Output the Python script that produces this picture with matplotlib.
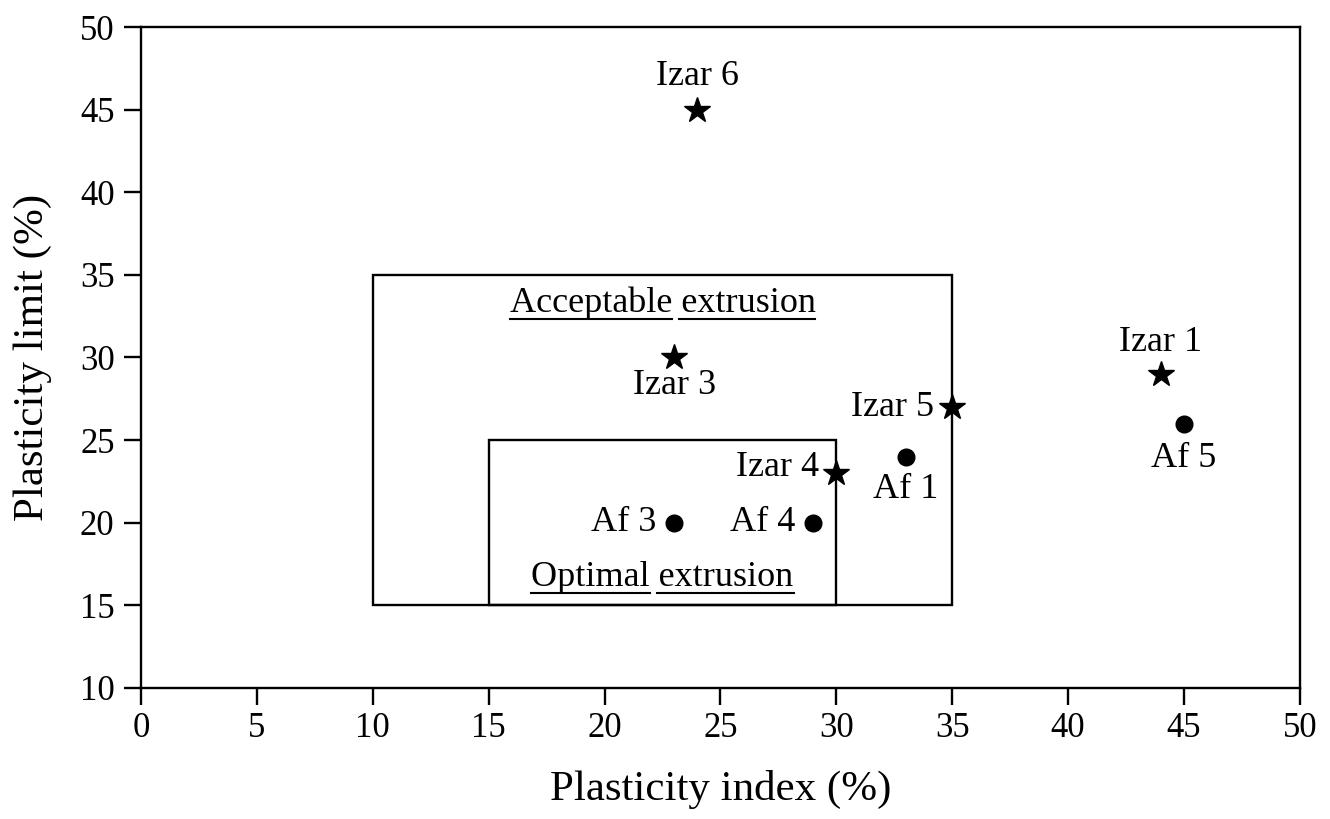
import matplotlib
matplotlib.use("Agg")
import matplotlib.pyplot as plt
from matplotlib.patches import Rectangle
from matplotlib.lines import Line2D

plt.rcParams['font.family'] = ['Liberation Serif', 'DejaVu Serif']

# Samples: (plasticity index, plasticity limit)
izar_names = ["Izar 1", "Izar 3", "Izar 4", "Izar 5", "Izar 6"]
izar_pi = [44, 23, 30, 35, 24]
izar_pl = [29, 30, 23, 27, 45]

af_names = ["Af 1", "Af 3", "Af 4", "Af 5"]
af_pi = [33, 23, 29, 45]
af_pl = [24, 20, 20, 26]

# Extrusion zones: (PI min, PI max, PL min, PL max)
acceptable_zone = (10, 35, 15, 35)
optimal_zone = (15, 30, 15, 25)

x_ticks = list(range(0, 51, 5))
y_ticks = list(range(10, 51, 5))

fig = plt.figure(figsize=(13.3, 8.19), dpi=100)
ax = fig.add_axes([0.106, 0.160, 0.8714, 0.807])

lw = 1.7
for (x0, x1, y0, y1) in (acceptable_zone, optimal_zone):
    ax.add_patch(Rectangle((x0, y0), x1 - x0, y1 - y0, fill=False,
                           edgecolor='black', linewidth=lw, zorder=2))

ax.plot(izar_pi, izar_pl, linestyle='none', marker='*', markersize=19,
        color='black', zorder=3, clip_on=False)
ax.plot(af_pi, af_pl, linestyle='none', marker='o', markersize=12,
        color='black', zorder=3, clip_on=False)

label_fs = 26
# label placement: name -> (x offset, y offset, ha, va)
izar_offsets = {
    "Izar 1": (0, 1.9, 'center', 'center'),
    "Izar 3": (0, -1.7, 'center', 'center'),
    "Izar 4": (-0.75, 0.35, 'right', 'center'),
    "Izar 5": (-0.8, 0.0, 'right', 'center'),
    "Izar 6": (0, 2.0, 'center', 'center'),
}
af_offsets = {
    "Af 1": (0, -2.0, 'center', 'center'),
    "Af 3": (-0.75, 0.0, 'right', 'center'),
    "Af 4": (-0.75, 0.0, 'right', 'center'),
    "Af 5": (0, -2.1, 'center', 'center'),
}
for n, x, y in zip(izar_names, izar_pi, izar_pl):
    dx, dy, ha, va = izar_offsets[n]
    ax.text(x + dx, y + dy, n, fontsize=label_fs, ha=ha, va=va)
for n, x, y in zip(af_names, af_pi, af_pl):
    dx, dy, ha, va = af_offsets[n]
    ax.text(x + dx, y + dy, n, fontsize=label_fs, ha=ha, va=va)

# Zone titles, underlined word by word
zone_titles = [
    (["Acceptable", "extrusion"], 22.5, 33.3),
    (["Optimal", "extrusion"], 22.5, 16.7),
]

ax.set_xlim(0, 50)
ax.set_ylim(10, 50)
ax.set_xticks(x_ticks)
ax.set_yticks(y_ticks)
ax.tick_params(direction='out', length=12, width=lw, labelsize=25, pad=5,
               top=False, right=False)
ax.tick_params(axis='y', pad=7)
for s in ax.spines.values():
    s.set_linewidth(lw)
ax.set_xlabel("Plasticity index (%)", fontsize=31, labelpad=18)
ax.set_ylabel("Plasticity limit (%)", fontsize=31, labelpad=20)

title_texts = []
for words, xc, yc in zone_titles:
    t = ax.text(xc, yc, " ".join(words), fontsize=label_fs, ha='center', va='center')
    title_texts.append((t, words))

fig.canvas.draw()
renderer = fig.canvas.get_renderer()
inv = fig.transFigure.inverted()
for t, words in title_texts:
    bb = t.get_window_extent(renderer)
    # measure the first word and the space to split the underline
    tmp = ax.text(0, 0, words[0], fontsize=label_fs)
    w0 = tmp.get_window_extent(renderer).width
    tmp2 = ax.text(0, 0, words[0] + " ", fontsize=label_fs)
    w0s = tmp2.get_window_extent(renderer).width
    tmp.remove(); tmp2.remove()
    yline = bb.y0 + 1
    segs = [(bb.x0, bb.x0 + w0), (bb.x0 + w0s - 2, bb.x1)]
    for a, b in segs:
        p0 = inv.transform((a, yline))
        p1 = inv.transform((b, yline))
        fig.add_artist(Line2D([p0[0], p1[0]], [p0[1], p1[1]],
                              color='black', linewidth=1.5))

fig.savefig("out.png", dpi=100, facecolor='white')
